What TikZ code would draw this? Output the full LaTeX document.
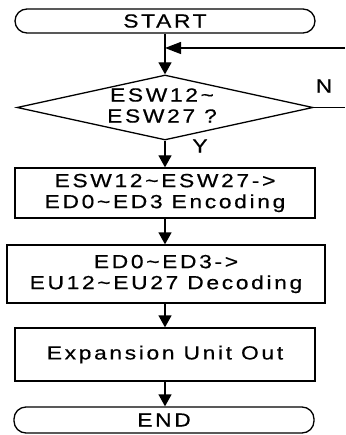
\documentclass[tikz,border=0pt]{standalone}
\usepackage{fontspec}
\usetikzlibrary{shapes.geometric,arrows.meta}
\newfontfamily\flowfont[FakeStretch=1.2,LetterSpace=14,FakeBold=0.5]{Liberation Sans}
\begin{document}
\begin{tikzpicture}[x=1pt,y=-1pt,
  line width=1.3pt,
  txt/.style={font=\flowfont\fontsize{19}{21}\selectfont, align=center, inner sep=0pt},
  term/.style={draw, rounded corners=12pt, minimum width=300pt, minimum height=24pt, inner sep=0pt, txt},
  proc/.style={draw, minimum width=300pt, inner sep=0pt, txt},
  arr/.style={-{Triangle[length=12pt,width=13pt]}},
  larr/.style={-{Triangle[length=16pt,width=12pt]}}]
\useasboundingbox (0,0) rectangle (345,435);
\node[term] (s) at (165,21) {START};
\node[diamond, draw, minimum width=296pt, minimum height=65pt, inner sep=0pt] (d) at (165,107.5) {};
\node[txt] (dt) at (162,105.5) {ESW12\textasciitilde\\ESW27 ?};
\node[proc, minimum height=50pt] (b1) at (165,193) {ESW12\textasciitilde ESW27->\\ED0\textasciitilde ED3 Encoding};
\node[proc, minimum width=318pt, minimum height=58pt] (b2) at (166,274) {ED0\textasciitilde ED3->\\EU12\textasciitilde EU27 Decoding};
\node[proc, minimum height=53pt] (b3) at (165,354.5) {Expansion Unit Out};
\node[term, minimum height=26pt] (e) at (164,420) {END};
\coordinate (loopR) at (345,48);
\coordinate (nR) at (345,107.5);
\node[txt] (N) at (324,86) {N};
\node[txt] (Y) at (200,146) {Y};
\draw[arr] (s) -- (d.north);
\draw[larr] (loopR) -- (loopR -| s.south);
\draw (d.east) -- (nR);
\draw[arr] (d.south) -- (b1.north -| d.south);
\draw[arr] (b1.south -| d.south) -- (b2.north -| d.south);
\draw[arr] (b2.south -| d.south) -- (b3.north -| d.south);
\draw[arr] (b3.south -| d.south) -- (e.north -| d.south);
\end{tikzpicture}
\end{document}
